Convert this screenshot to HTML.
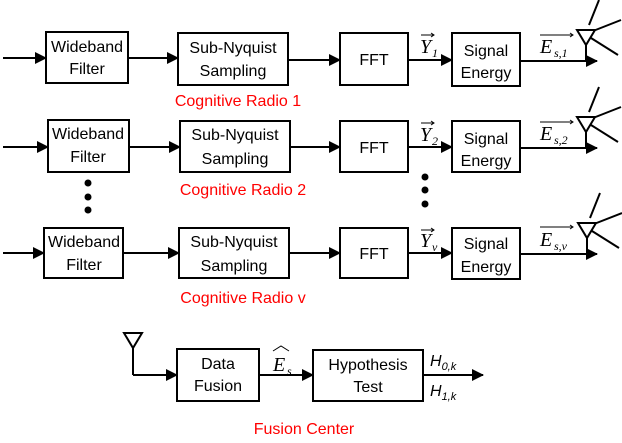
<!DOCTYPE html>
<html><head><meta charset="utf-8"><style>
html,body{margin:0;padding:0;background:#fff;}
svg{display:block;}
text{font-family:"Liberation Sans",Arial,sans-serif;font-size:16px;fill:#000;}
.r{fill:#f00;}
.s{font-family:"Liberation Serif",serif;font-style:italic;font-size:20px;}
.sub{font-family:"Liberation Serif",serif;font-style:italic;font-size:12px;}
</style></head><body>
<svg width="622" height="443" viewBox="0 0 622 443" xmlns="http://www.w3.org/2000/svg">
<defs><marker id="a" markerWidth="12" markerHeight="12" refX="11" refY="6" orient="auto" markerUnits="userSpaceOnUse"><path d="M0,0 L12,6 L0,12z" fill="#000"/></marker></defs>
<g fill="none" stroke="#000" stroke-width="2">
<rect x="46" y="32" width="82" height="51"/><rect x="178" y="33" width="110" height="52"/><rect x="340" y="33" width="68" height="52"/><rect x="452" y="33" width="68" height="53"/>
<line x1="3" y1="58" x2="46" y2="58" marker-end="url(#a)"/><line x1="128" y1="58" x2="178" y2="58" marker-end="url(#a)"/><line x1="288" y1="60" x2="340" y2="60" marker-end="url(#a)"/><line x1="408" y1="60" x2="452" y2="60" marker-end="url(#a)"/><line x1="520" y1="61" x2="597" y2="61" marker-end="url(#a)"/>
<rect x="48" y="120" width="81" height="52"/><rect x="180" y="121" width="110" height="51"/><rect x="340" y="121" width="68" height="51"/><rect x="452" y="121" width="68" height="51"/>
<line x1="3" y1="147" x2="48" y2="147" marker-end="url(#a)"/><line x1="129" y1="147" x2="180" y2="147" marker-end="url(#a)"/><line x1="290" y1="147" x2="340" y2="147" marker-end="url(#a)"/><line x1="408" y1="147" x2="452" y2="147" marker-end="url(#a)"/><line x1="520" y1="148" x2="597" y2="148" marker-end="url(#a)"/>
<rect x="44" y="228" width="79" height="50"/><rect x="179" y="228" width="110" height="50"/><rect x="340" y="228" width="68" height="50"/><rect x="452" y="228" width="68" height="51"/>
<line x1="3" y1="253" x2="44" y2="253" marker-end="url(#a)"/><line x1="123" y1="253" x2="179" y2="253" marker-end="url(#a)"/><line x1="289" y1="253" x2="340" y2="253" marker-end="url(#a)"/><line x1="408" y1="253" x2="452" y2="253" marker-end="url(#a)"/><line x1="520" y1="254" x2="597" y2="254" marker-end="url(#a)"/>
<path d="M577,30 L595,30 L586,45z M586,45 L586,61 M593,31 L621,20 M591,38 L618,55 M589,25 L599,0"/>
<path d="M577,117 L595,117 L586,132z M586,132 L586,148 M593,118 L621,107 M591,125 L618,142 M589,112 L599,87"/>
<path d="M578,223 L596,223 L587,238z M587,238 L587,254 M594,224 L622,213 M592,231 L619,248 M590,218 L600,193"/>
<path d="M124,333 L142,333 L133,348z M133,348 L133,375"/>
<line x1="133" y1="375" x2="177" y2="375" marker-end="url(#a)"/>
<rect x="177" y="349" width="82" height="52"/><rect x="313" y="350" width="110" height="51"/>
<line x1="259" y1="375" x2="313" y2="375" marker-end="url(#a)"/><line x1="423" y1="375" x2="483" y2="375" marker-end="url(#a)"/>
</g>
<g fill="#000"><circle cx="88" cy="183" r="3.5"/><circle cx="88" cy="197" r="3.5"/><circle cx="88" cy="210" r="3.5"/><circle cx="425" cy="177" r="3.5"/><circle cx="425" cy="190" r="3.5"/><circle cx="425" cy="204" r="3.5"/></g>
<g text-anchor="middle">
<text x="87" y="52">Wideband</text><text x="87" y="74">Filter</text>
<text x="233" y="53">Sub-Nyquist</text><text x="233" y="76">Sampling</text>
<text x="374" y="65">FFT</text><text x="486" y="56">Signal</text><text x="486" y="78">Energy</text>
<text x="88" y="139">Wideband</text><text x="88" y="162">Filter</text>
<text x="235" y="140">Sub-Nyquist</text><text x="235" y="164">Sampling</text>
<text x="374" y="153">FFT</text><text x="486" y="144">Signal</text><text x="486" y="166">Energy</text>
<text x="84" y="247">Wideband</text><text x="84" y="270">Filter</text>
<text x="234" y="247">Sub-Nyquist</text><text x="234" y="271">Sampling</text>
<text x="374" y="259">FFT</text><text x="486" y="249">Signal</text><text x="486" y="272">Energy</text>
<text class="r" x="238" y="106">Cognitive Radio 1</text>
<text class="r" x="243" y="195">Cognitive Radio 2</text>
<text class="r" x="243" y="303">Cognitive Radio v</text>
<text class="r" x="304" y="434">Fusion Center</text>
<text x="218" y="369">Data</text><text x="218" y="391">Fusion</text>
<text x="368" y="370">Hypothesis</text><text x="368" y="392">Test</text>
</g>
<g stroke="#000" stroke-width="1" fill="none">
<path d="M421,35 L434,35 M431,33 L434,35 L431,37"/><path d="M421,123 L434,123 M431,121 L434,123 L431,125"/><path d="M421,230 L434,230 M431,228 L434,230 L431,232"/>
<path d="M540,35 L573,35 M570,33 L573,35 L570,37"/><path d="M540,122 L573,122 M570,120 L573,122 L570,124"/><path d="M540,227 L573,227 M570,225 L573,227 L570,229"/>
<path d="M273,351 L281,346 L289,351"/>
</g>
<text class="s" x="420" y="53">Y</text><text class="sub" x="432" y="57">1</text>
<text class="s" x="420" y="141">Y</text><text class="sub" x="432" y="145">2</text>
<text class="s" x="420" y="247">Y</text><text class="sub" x="432" y="251">v</text>
<text class="s" x="540" y="53">E</text><text class="sub" x="554" y="57">s,1</text>
<text class="s" x="540" y="140">E</text><text class="sub" x="554" y="144">s,2</text>
<text class="s" x="540" y="246">E</text><text class="sub" x="554" y="250">s,v</text>
<text class="s" x="273" y="371">E</text><text class="sub" x="287" y="375">s</text>
<text x="430" y="366" font-style="italic">H<tspan font-size="11" dy="4">0,k</tspan></text>
<text x="430" y="396" font-style="italic">H<tspan font-size="11" dy="4">1,k</tspan></text>
</svg>
</body></html>
